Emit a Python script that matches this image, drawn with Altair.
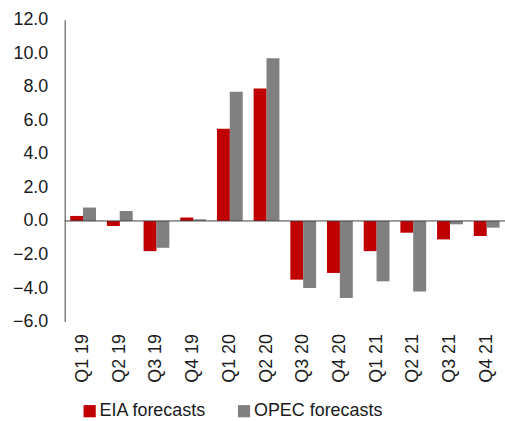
import altair as alt
import pandas as pd

quarters = ["Q1 19", "Q2 19", "Q3 19", "Q4 19", "Q1 20", "Q2 20",
            "Q3 20", "Q4 20", "Q1 21", "Q2 21", "Q3 21", "Q4 21"]
eia = [0.3, -0.3, -1.8, 0.2, 5.5, 7.9, -3.5, -3.1, -1.8, -0.7, -1.1, -0.9]
opec = [0.8, 0.6, -1.6, 0.1, 7.7, 9.7, -4.0, -4.6, -3.6, -4.2, -0.2, -0.4]
series = ["EIA forecasts", "OPEC forecasts"]
colors = ["#C00000", "#808080"]
y_ticks = [-6, -4, -2, 0, 2, 4, 6, 8, 10, 12]

rows = []
for q, a, b in zip(quarters, eia, opec):
    rows.append({"quarter": q, "series": series[0], "value": a})
    rows.append({"quarter": q, "series": series[1], "value": b})
df = pd.DataFrame(rows)

FONT = "Liberation Sans"
FS = 18

y_scale = alt.Scale(domain=[-6, 12], nice=False)
y_axis = alt.Axis(values=y_ticks, format=".1f", grid=False, ticks=False,
                  domainColor="#808080", domainWidth=1.5, labelPadding=17,
                  labelOverlap=False, labelFlush=False, labelBound=False,
                  labelFontSize=FS, labelFont=FONT, labelColor="#1a1a1a")

bars = alt.Chart(df).mark_bar(size=13).encode(
    x=alt.X("quarter:N", sort=quarters, title=None,
            scale=alt.Scale(paddingInner=0.3, paddingOuter=0.15),
            axis=alt.Axis(labelAngle=-90, domain=False, ticks=False,
                          labelPadding=12, labelBaseline="middle",
                          labelOverlap=False, labelFontSize=FS, labelFont=FONT,
                          labelColor="#1a1a1a")),
    xOffset=alt.XOffset("series:N", sort=series),
    y=alt.Y("value:Q", title=None, scale=y_scale, axis=y_axis),
    color=alt.Color("series:N", sort=series,
                    scale=alt.Scale(domain=series, range=colors),
                    legend=alt.Legend(title=None, orient="none", direction="horizontal",
                                      legendX=16, legendY=384, symbolType="square",
                                      symbolSize=150, symbolStrokeWidth=0,
                                      labelFontSize=FS, labelFont=FONT,
                                      labelColor="#1a1a1a", columnPadding=28,
                                      labelOffset=1)),
)

# zero baseline across the plot
zero = alt.Chart(pd.DataFrame({"y": [0]})).mark_rule(color="#404040", strokeWidth=1).encode(
    y=alt.Y("y:Q", title=None, scale=y_scale, axis=y_axis)
)

chart = (bars + zero).properties(
    width=442, height=303,
    padding={"left": 65, "top": 19, "right": 0, "bottom": 99},
    autosize=alt.AutoSizeParams(type="none"),
).configure_view(stroke=None)

chart.save("out.html", embed_options={"renderer": "svg", "actions": False})
